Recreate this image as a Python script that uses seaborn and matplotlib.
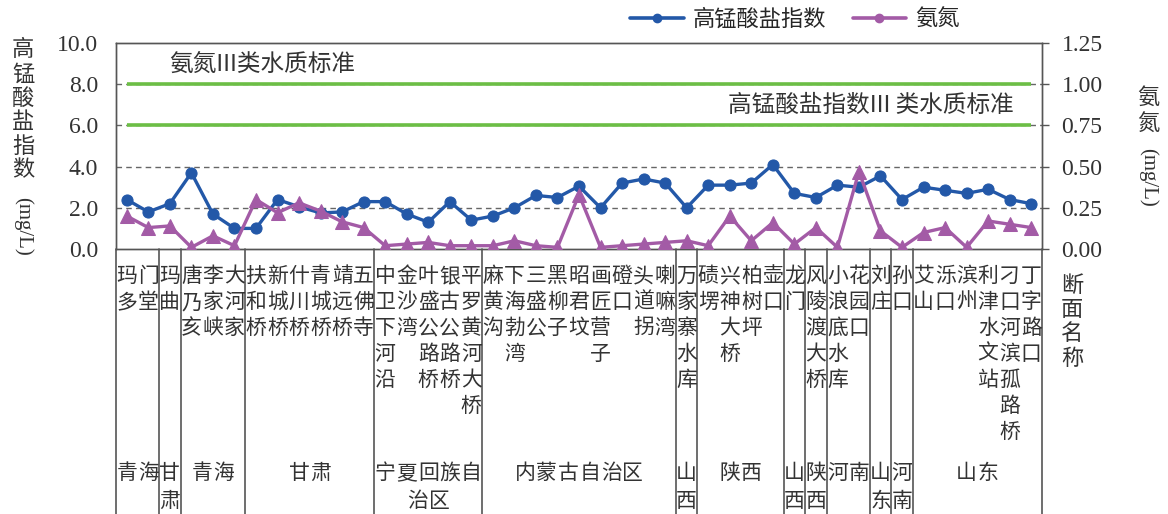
# Permanganate index and ammonia nitrogen along the Yellow River sections
import numpy as np
import pandas as pd
import matplotlib
matplotlib.use('Agg')
import matplotlib.pyplot as plt
import matplotlib.transforms as mtransforms
from matplotlib.lines import Line2D
import seaborn as sns

# ---- data ----
stations = ['玛多', '门堂', '玛曲', '唐乃亥', '李家峡', '大河家', '扶和桥', '新城桥', '什川桥',
            '青城桥', '靖远桥', '五佛寺', '中卫下河沿', '金沙湾', '叶盛公路桥', '银古公路桥',
            '平罗黄河大桥', '麻黄沟', '下海勃湾', '三盛公', '黑柳子', '昭君坟', '画匠营子', '磴口',
            '头道拐', '喇嘛湾', '万家寨水库', '碛塄', '兴神大桥', '柏树坪', '壶口', '龙门',
            '风陵渡大桥', '小浪底水库', '花园口', '刘庄', '孙口', '艾山', '泺口', '滨州',
            '利津水文站', '刁口河滨孤路桥', '丁字路口']
codmn = [2.4, 1.8, 2.2, 3.7, 1.7, 1.0, 1.0, 2.4, 2.05, 1.75, 1.8, 2.3, 2.3, 1.7, 1.3, 2.3,
         1.4, 1.6, 2.0, 2.6, 2.5, 3.05, 2.0, 3.2, 3.4, 3.2, 2.0, 3.1, 3.1, 3.2, 4.1, 2.7,
         2.5, 3.1, 3.0, 3.55, 2.4, 3.0, 2.85, 2.7, 2.9, 2.4, 2.2]
nh3n = [0.2, 0.13, 0.14, 0.01, 0.08, 0.02, 0.30, 0.22, 0.28, 0.23, 0.165, 0.13, 0.02, 0.03,
        0.04, 0.02, 0.02, 0.02, 0.05, 0.02, 0.01, 0.33, 0.01, 0.02, 0.03, 0.04, 0.05, 0.02,
        0.2, 0.05, 0.16, 0.03, 0.13, 0.01, 0.47, 0.11, 0.01, 0.10, 0.13, 0.01, 0.17, 0.15, 0.13]
provinces = ['青海', '甘肃', '青海', '甘肃', '宁夏回族自治区', '内蒙古自治区', '山西', '陕西',
             '山西', '陕西', '河南', '山东', '河南', '山东']
province_counts = [2, 1, 3, 6, 5, 9, 1, 4, 1, 1, 2, 1, 1, 6]
left_ticks = [0, 2, 4, 6, 8, 10]
right_ticks = [0, 0.25, 0.5, 0.75, 1.0, 1.25]
codmn_std = 6.0   # III class standard, left axis
nh3n_std = 1.0    # III class standard, right axis

df = pd.DataFrame({'idx': np.arange(len(stations)), 'station': stations,
                   'codmn': codmn, 'nh3n': nh3n})

BLUE = '#2358A8'
PURPLE = '#A35BA6'
GREEN = '#6CBE45'
EDGE = '#555555'
TXT = '#333333'
NUM_FONT = 'Liberation Serif'

sns.set_style('white')
plt.rcParams['font.family'] = ['Noto Sans CJK SC', 'DejaVu Sans']
plt.rcParams['font.weight'] = 'light'

W, H = 1168, 514
fig = plt.figure(figsize=(W / 100, H / 100), dpi=100)
ax = fig.add_axes([116 / W, 1 - 249 / H, (1042 - 116) / W, (249 - 43) / H])
ax2 = ax.twinx()

n = len(stations)
ax.set_xlim(-0.5, n - 0.5)
ax.set_ylim(0, 10)
ax2.set_ylim(0, 1.25)

# dashed grid on left scale
for v in left_ticks[1:-1]:
    ax.axhline(v, color='#666666', lw=1.0, ls=(0, (4, 3)), zorder=1)

# standard lines
ax.hlines(codmn_std, 0, n - 1, color=GREEN, lw=2.6, zorder=2)
ax2.hlines(nh3n_std, 0, n - 1, color=GREEN, lw=2.6, zorder=2)
ax.text(1.95, 8.4, '氨氮III类水质标准', fontsize=17, color=TXT, ha='left', va='bottom')
ax.text(27.9, 6.4, '高锰酸盐指数III 类水质标准', fontsize=17, color=TXT,
        ha='left', va='bottom')

sns.lineplot(data=df, x='idx', y='codmn', ax=ax, color=BLUE, lw=2.4, marker='o',
             markersize=8, markeredgecolor=BLUE, zorder=5, legend=False)
sns.lineplot(data=df, x='idx', y='nh3n', ax=ax2, color=PURPLE, lw=2.4, marker='^',
             markersize=10, markeredgecolor=PURPLE, zorder=4, legend=False)

# axes styling
for a in (ax, ax2):
    for s in a.spines.values():
        s.set_color(EDGE)
        s.set_linewidth(1.0)
    a.set_xlabel('')
    a.set_ylabel('')
ax.set_xticks([])
ax.set_yticks(left_ticks)
ax.set_yticklabels([f'{v:.1f}' for v in left_ticks], fontsize=17, family=NUM_FONT, color=TXT)
ax.tick_params(axis='y', length=0, pad=13)
ax2.set_yticks(right_ticks)
ax2.set_yticklabels([f'{v:.2f}' for v in right_ticks], fontsize=17, family=NUM_FONT, color=TXT)
ax2.tick_params(axis='y', direction='out', length=5, width=1, color=EDGE, pad=9)

# axis titles (stacked characters + rotated unit)
def px(x, y):
    return x / W, 1 - y / H

for i, ch in enumerate('高锰酸盐指数'):
    fig.text(*px(23, 50 + i * 24), ch, fontsize=16, ha='center', va='center', color=TXT)
fig.text(*px(23, 226), '(mg/L)', fontsize=15, ha='center', va='center', rotation=-90,
         family=NUM_FONT, color=TXT)
for i, ch in enumerate('氨氮'):
    fig.text(*px(1148, 97 + i * 26), ch, fontsize=16, ha='center', va='center', color=TXT)
fig.text(*px(1148, 177), '(mg/L)', fontsize=15, ha='center', va='center', rotation=-90,
         family=NUM_FONT, color=TXT)
for i, ch in enumerate('断面名称'):
    fig.text(*px(1072, 285 + i * 24.5), ch, fontsize=16, ha='center', va='center', color=TXT)

# station table below the axis
blend = mtransforms.blended_transform_factory(ax.transData, fig.transFigure)
for k, name in enumerate(stations):
    for r, ch in enumerate(name):
        fig.text(k, 1 - (276 + r * 26) / H, ch, transform=blend, fontsize=15,
                 ha='center', va='center', color=TXT)

edges = np.concatenate([[0], np.cumsum(province_counts)])
for e in edges:
    fig.add_artist(Line2D([e - 0.5, e - 0.5], [1 - 249 / H, 0], transform=blend,
                          color=EDGE, lw=1.2))
for p, c, start in zip(provinces, province_counts, edges[:-1]):
    per_line = max(1, c)
    lines = [p[j:j + per_line] for j in range(0, len(p), per_line)]
    center = start + (c - 1) / 2
    for r, line in enumerate(lines):
        for j, ch in enumerate(line):
            xpos = center + (j - (len(line) - 1) / 2) * 1.0
            fig.text(xpos, 1 - (473 + r * 28) / H, ch, transform=blend, fontsize=15,
                     ha='center', va='center', color=TXT)

# legend
handles = [Line2D([], [], color=BLUE, lw=2.6, marker='o', markersize=6),
           Line2D([], [], color=PURPLE, lw=2.6, marker='o', markersize=6)]
fig.legend(handles, ['高锰酸盐指数', '氨氮'], loc='center', bbox_to_anchor=(px(795, 19)),
           ncol=2, frameon=False, fontsize=16, handlelength=2.4, columnspacing=1.2,
           handletextpad=0.4)

fig.savefig('out.png', dpi=100, facecolor='white')
